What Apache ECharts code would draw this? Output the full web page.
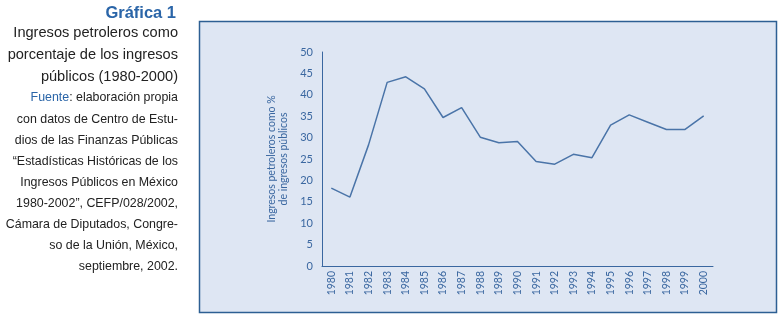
<!DOCTYPE html>
<html>
<head>
<meta charset="utf-8">
<script src="https://cdn.jsdelivr.net/npm/echarts@6/dist/echarts.min.js"></script>
<style>
  html, body { margin: 0; padding: 0; background: #fff; }
  #chart { width: 780px; height: 317px; }
</style>
</head>
<body>
<div id="chart"></div>
<script>
  // data
  var years = ['1980', '1981', '1982', '1983', '1984', '1985', '1986', '1987', '1988', '1989', '1990',
    '1991', '1992', '1993', '1994', '1995', '1996', '1997', '1998', '1999', '2000'];
  var petroShare = [18.2, 16.1, 28.3, 42.9, 44.2, 41.4, 34.7, 37.0, 30.1, 28.8, 29.1,
    24.4, 23.8, 26.1, 25.3, 32.9, 35.3, 33.6, 31.9, 31.9, 35.1];

  var titleLines = ['Ingresos petroleros como', 'porcentaje de los ingresos', 'públicos (1980-2000)'];
  var sourceLines = [
    '{b|Fuente}: elaboración propia',
    'con datos de Centro de Estu-',
    'dios de las Finanzas Públicas',
    '“Estadísticas Históricas de los',
    'Ingresos Públicos en México',
    '1980-2002”, CEFP/028/2002,',
    'Cámara de Diputados, Congre-',
    'so de la Unión, México,',
    'septiembre, 2002.'
  ];

  var blue = '#3a67a0';
  var txtFont = '"Liberation Sans", Arial, sans-serif';
  var axFont = 'Lato, "Open Sans", sans-serif';

  var graphics = [
    {
      type: 'rect', z: -10, silent: true,
      shape: { x: 199.5, y: 21.5, width: 577, height: 291 },
      style: { fill: '#dee6f3', stroke: '#2d5f93', lineWidth: 1.5 }
    },
    {
      type: 'text', x: 176, y: 13,
      style: { text: 'Gráfica 1', fill: '#2a65a8', font: 'bold 16.5px ' + txtFont, align: 'right', verticalAlign: 'middle' }
    }
  ];
  titleLines.forEach(function (t, i) {
    graphics.push({
      type: 'text', x: 178, y: 33 + i * 22,
      style: { text: t, fill: '#222', font: '14.6px ' + txtFont, align: 'right', verticalAlign: 'middle' }
    });
  });
  sourceLines.forEach(function (t, i) {
    graphics.push({
      type: 'text', x: 178, y: 98 + i * 21.1,
      style: {
        text: t, fill: '#222', fontFamily: txtFont, fontSize: 12.4, align: 'right', verticalAlign: 'middle',
        rich: { b: { fill: '#2a65a8', fontFamily: txtFont, fontSize: 12.4 } }
      }
    });
  });

  var chart = echarts.init(document.getElementById('chart'));
  chart.setOption({
    animation: false,
    backgroundColor: '#fff',
    graphic: graphics,
    grid: { left: 322, right: 67, top: 52, bottom: 51 },
    xAxis: {
      type: 'category',
      data: years,
      boundaryGap: true,
      axisLine: { lineStyle: { color: blue, width: 1 } },
      axisTick: { show: false },
      axisLabel: { rotate: 90, color: blue, fontSize: 10.5, fontFamily: axFont, margin: 5 }
    },
    yAxis: {
      type: 'value',
      min: 0, max: 50, interval: 5,
      name: 'Ingresos petroleros como %\nde ingresos públicos',
      nameLocation: 'middle',
      nameRotate: 90,
      nameGap: 26,
      nameTextStyle: { color: blue, fontSize: 10.5, fontFamily: axFont, lineHeight: 12 },
      axisLine: { show: true, lineStyle: { color: blue, width: 1 } },
      axisTick: { show: false },
      splitLine: { show: false },
      axisLabel: { color: blue, fontSize: 11, fontFamily: axFont, margin: 9 }
    },
    series: [{
      type: 'line',
      data: petroShare,
      symbol: 'none',
      lineStyle: { color: '#4a74a8', width: 1.5 }
    }]
  });
</script>
</body>
</html>
